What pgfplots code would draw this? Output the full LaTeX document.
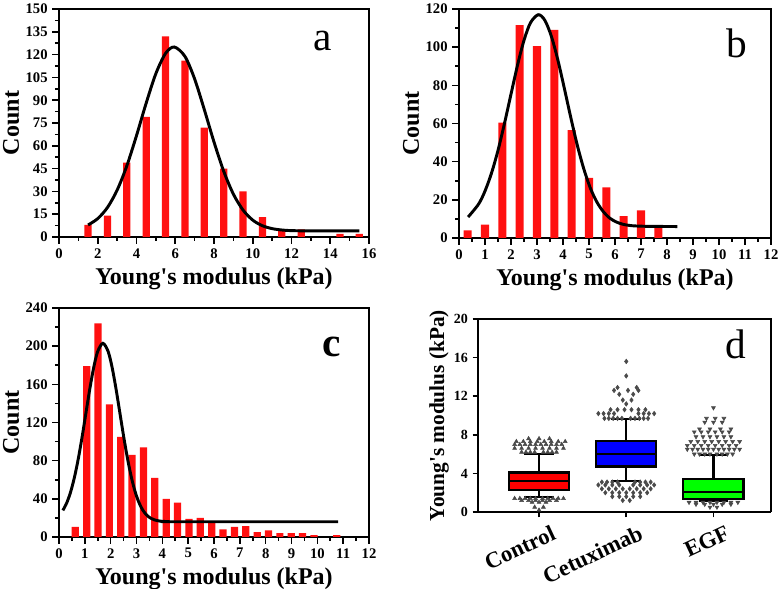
\documentclass[border=0pt]{standalone}
\usepackage{fontspec}
\setmainfont{Liberation Serif}
\usepackage{pgfplots}
\pgfplotsset{compat=1.18}
\usepgfplotslibrary{statistics}

\definecolor{barred}{HTML}{FF1010}
\definecolor{outl}{HTML}{4A4A4A}

\pgfplotsset{
  hist/.style={
    scale only axis,
    enlargelimits=false,
    axis line style={line width=1.5pt},
    tick style={line width=1.2pt, black},
    tick align=outside,
    xtick pos=left, ytick pos=left,
    major tick length=5pt, minor tick length=3pt,
    minor tick num=1,
    /pgf/number format/assume math mode=true,
    tick label style={font=\bfseries\fontsize{11}{11}\selectfont},
    label style={font=\bfseries\fontsize{18}{18}\selectfont},
    xlabel={Young\textquotesingle s modulus (kPa)},
    ylabel={Count},
    ylabel style={yshift=-2pt},
  },
  bars/.style={ybar, fill=barred, draw=none},
  fit/.style={black, line width=2.2pt, smooth, mark=none},
}

\begin{document}
\begin{tikzpicture}
\path[use as bounding box] (0,0) rectangle (586.5pt,441.75pt);

% ---------- a ----------
\begin{axis}[hist, at={(44.25pt,264pt)}, anchor=south west,
  width=232.5pt, height=171pt,
  xmin=0, xmax=16, ymin=0, ymax=150,
  xtick={0,2,...,16}, ytick={0,15,...,150}]
\addplot[bars, bar width=0.38] coordinates {
  (1.5,8) (2.5,14) (3.5,49) (4.5,79) (5.5,132) (6.5,116) (7.5,72)
  (8.5,45) (9.5,30) (10.5,13) (11.5,5) (12.5,5) (14.5,2) (15.5,2)};
\addplot[fit] coordinates {
  (1.5,7.9) (2,12.1) (2.5,19.4) (3,30.8) (3.5,46.8) (4,66.7) (4.5,88.1)
  (5,107.5) (5.5,120.8) (5.95,125) (6.5,118.8) (7,104) (7.5,83.8) (8,62.5)
  (8.5,43.3) (9,28.2) (9.5,17.7) (10,11.1) (10.5,7.4) (11,5.5) (11.5,4.6)
  (12,4.2) (13,4) (15.5,4)};
\node[font=\fontsize{31}{31}\selectfont] at (rel axis cs:0.85,0.86) {a};
\end{axis}

% ---------- b ----------
\begin{axis}[hist, at={(344.25pt,263.25pt)}, anchor=south west,
  width=234pt, height=171.75pt,
  xmin=0, xmax=12, ymin=0, ymax=120,
  xtick={0,1,...,12}, ytick={0,20,...,120}]
\addplot[bars, bar width=0.31] coordinates {
  (0.33,4) (1,7) (1.67,60.5) (2.33,111.5) (3,100.5) (3.67,109) (4.33,56.5)
  (5,31.5) (5.67,26.5) (6.33,11.5) (7,14.5) (7.67,6)};
\addplot[fit] coordinates {
  (0.35,11) (0.75,17.7) (1,24.6) (1.25,34) (1.5,45.9) (1.75,60.1) (2,75.4)
  (2.25,90.5) (2.5,103.6) (2.75,112.8) (3.05,117) (3.3,114.1) (3.55,105.8)
  (3.8,93.4) (4.05,78.5) (4.3,63.1) (4.55,48.6) (4.8,36.2) (5.05,26.2)
  (5.3,18.9) (5.55,13.8) (5.8,10.4) (6.05,8.4) (6.3,7.2) (6.55,6.6)
  (6.8,6.3) (7.3,6.1) (8.4,6)};
\node[font=\fontsize{31}{31}\selectfont] at (rel axis cs:0.89,0.85) {b};
\end{axis}

% ---------- c ----------
\begin{axis}[hist, at={(44.25pt,39pt)}, anchor=south west,
  width=232.5pt, height=171.75pt,
  xmin=0, xmax=12, ymin=0, ymax=240,
  xtick={0,1,...,12}, ytick={0,40,...,240}]
\addplot[bars, bar width=0.28] coordinates {
  (0.63,10.5) (1.07,179) (1.51,224) (1.95,139) (2.39,105) (2.83,86)
  (3.27,94) (3.71,62) (4.15,40) (4.59,36) (5.03,19) (5.47,20) (5.91,15)
  (6.35,8) (6.79,10.5) (7.23,11.5) (7.67,5) (8.11,7) (8.55,4) (8.99,4)
  (9.43,4) (9.87,2) (10.75,2)};
\addplot[fit] coordinates {
  (0.15,27.9) (0.3,35.8) (0.45,47.2) (0.6,62.8) (0.75,82.5) (0.9,105.8)
  (1.05,131.2) (1.2,156.4) (1.35,178.5) (1.5,194.6) (1.7,203) (1.9,194.6)
  (2.05,178.5) (2.2,156.4) (2.35,131.2) (2.5,105.8) (2.65,82.5) (2.8,62.8)
  (2.95,47.2) (3.1,35.8) (3.25,27.9) (3.4,22.8) (3.55,19.7) (3.7,17.9)
  (3.9,16.7) (4.1,16.3) (4.5,16) (10.8,16)};
\node[font=\bfseries\fontsize{31}{31}\selectfont] at (rel axis cs:0.88,0.83) {c};
\end{axis}

% ---------- d ----------
\begin{axis}[at={(358.5pt,57.75pt)}, anchor=south west,
  scale only axis, width=219.75pt, height=144.75pt,
  boxplot/draw direction=y,
  axis lines*=left,
  axis line style={line width=1.5pt},
  tick style={line width=1.2pt, black},
  tick align=outside, major tick length=4pt,
  xmin=0.3, xmax=3.66, ymin=0, ymax=20,
  ytick={0,4,...,20},
  xtick={1,2,3}, xticklabels={Control,Cetuximab,EGF},
  /pgf/number format/assume math mode=true,
  tick label style={font=\bfseries\fontsize{10.5}{10.5}\selectfont},
  xticklabel style={font=\bfseries\fontsize{17}{17}\selectfont, rotate=25, anchor=north east, xshift=9pt, yshift=-5pt},
  ylabel={Young\textquotesingle s modulus (kPa)},
  ylabel style={font=\bfseries\fontsize{16}{16}\selectfont, yshift=-3pt},
  after end axis/.code={\draw[line width=0.8pt] (rel axis cs:0,1) -- (rel axis cs:1,1) -- (rel axis cs:1,0);},
]
\addplot[boxplot prepared={draw position=1, median=3.2, upper quartile=4.1,
  lower quartile=2.25, upper whisker=6.05, lower whisker=1.55,
  box extend=0.69, whisker extend=0.34},
  draw=black, fill=red, line width=1.6pt, mark=none] coordinates {};
\addplot[boxplot prepared={draw position=2, median=6.05, upper quartile=7.4,
  lower quartile=4.72, upper whisker=9.66, lower whisker=3.2,
  box extend=0.69, whisker extend=0.34},
  draw=black, fill=blue, line width=1.6pt, mark=none] coordinates {};
\addplot[boxplot prepared={draw position=3, median=2.05, upper quartile=3.4,
  lower quartile=1.38, upper whisker=5.9, lower whisker=1.1,
  box extend=0.69, whisker extend=0.34},
  draw=black, fill=green, line width=1.6pt, mark=none] coordinates {};
% Control outliers
\addplot[only marks, mark=triangle*, mark size=1.7pt, color=outl] coordinates {
  (0.80,6.2) (0.85,6.2) (0.90,6.2) (0.95,6.2) (1.05,6.2) (1.10,6.2) (1.15,6.2) (1.20,6.2)
  (0.72,6.6) (0.80,6.6) (0.88,6.6) (0.96,6.6) (1.04,6.6) (1.12,6.6) (1.20,6.6) (1.28,6.6)
  (0.72,7.0) (0.78,7.0) (0.84,7.0) (0.90,7.0) (0.96,7.0) (1.02,7.0) (1.08,7.0) (1.14,7.0) (1.20,7.0) (1.26,7.0)
  (0.74,7.3) (0.82,7.3) (0.90,7.3) (0.98,7.3) (1.06,7.3) (1.14,7.3) (1.22,7.3) (1.30,7.3)
  (0.88,7.6) (1.00,7.6) (1.12,7.6)
  (0.72,1.4) (0.78,1.4) (0.84,1.4) (0.90,1.4) (0.96,1.4) (1.04,1.4) (1.10,1.4) (1.16,1.4) (1.22,1.4) (1.28,1.4)
  (0.80,1.2) (0.88,1.2) (0.96,1.2) (1.04,1.2) (1.12,1.2) (1.20,1.2)
  (0.92,1.0) (1.00,1.0) (1.08,1.0) (0.95,0.5) (1.05,0.5) (1.00,0.2)};
% Cetuximab outliers
\addplot[only marks, mark=diamond*, mark size=1.7pt, color=outl] coordinates {
  (1.75,9.7) (1.80,9.7) (1.85,9.7) (1.90,9.7) (1.95,9.7) (2.05,9.7) (2.10,9.7) (2.15,9.7) (2.20,9.7) (2.25,9.7)
  (1.68,10.2) (1.74,10.2) (1.80,10.2) (1.86,10.2) (2.14,10.2) (2.20,10.2) (2.26,10.2) (2.32,10.2)
  (1.82,10.6) (1.90,10.6) (1.98,10.6) (2.06,10.6) (2.14,10.6) (2.22,10.6)
  (2.00,11.2) (1.96,11.6) (2.06,11.6) (1.92,12.2) (2.08,12.2)
  (1.86,12.6) (2.02,12.6) (2.14,12.6) (1.90,12.9) (2.12,12.9)
  (2.00,14.1) (2.00,15.6)
  (1.72,3.1) (1.78,3.1) (1.84,3.1) (1.90,3.1) (2.10,3.1) (2.16,3.1) (2.22,3.1) (2.28,3.1)
  (1.68,2.8) (1.76,2.8) (1.84,2.8) (1.92,2.8) (2.08,2.8) (2.16,2.8) (2.24,2.8) (2.32,2.8)
  (1.72,2.4) (1.80,2.4) (1.88,2.4) (1.96,2.4) (2.04,2.4) (2.12,2.4) (2.20,2.4) (2.28,2.4)
  (1.76,2.0) (1.84,2.0) (1.92,2.0) (2.00,2.0) (2.08,2.0) (2.16,2.0) (2.24,2.0)
  (1.84,1.6) (1.92,1.6) (2.00,1.6) (2.08,1.6) (2.16,1.6) (1.96,1.2) (2.04,1.2)};
% EGF outliers
\addplot[only marks, mark=triangle*, mark options={rotate=180}, mark size=1.7pt, color=outl] coordinates {
  (2.78,6.0) (2.84,6.0) (2.90,6.0) (2.96,6.0) (3.04,6.0) (3.10,6.0) (3.16,6.0) (3.22,6.0)
  (2.70,6.5) (2.76,6.5) (2.82,6.5) (2.88,6.5) (2.94,6.5) (3.00,6.5) (3.06,6.5) (3.12,6.5) (3.18,6.5) (3.24,6.5) (3.30,6.5)
  (2.70,6.9) (2.78,6.9) (2.86,6.9) (2.94,6.9) (3.02,6.9) (3.10,6.9) (3.18,6.9) (3.26,6.9)
  (2.74,7.3) (2.82,7.3) (2.90,7.3) (2.98,7.3) (3.06,7.3) (3.14,7.3) (3.22,7.3) (3.30,7.3)
  (2.80,7.8) (2.88,7.8) (2.96,7.8) (3.04,7.8) (3.12,7.8) (3.20,7.8)
  (2.78,8.3) (2.86,8.3) (2.94,8.3) (3.02,8.3) (3.10,8.3) (3.18,8.3)
  (2.84,8.6) (2.96,8.6) (3.08,8.6) (3.20,8.6)
  (2.90,9.3) (3.00,9.3) (3.10,9.3) (2.92,9.7) (3.02,9.7) (3.12,9.7) (3.00,10.8)
  (2.72,1.0) (2.80,1.0) (2.88,1.0) (2.96,1.0) (3.04,1.0) (3.12,1.0) (3.20,1.0) (3.28,1.0)
  (2.80,0.8) (2.90,0.8) (3.00,0.8) (3.10,0.8) (3.20,0.8) (2.96,0.5) (3.04,0.5)};
\node[font=\fontsize{31}{31}\selectfont] at (rel axis cs:0.88,0.87) {d};
\end{axis}
\end{tikzpicture}
\end{document}
